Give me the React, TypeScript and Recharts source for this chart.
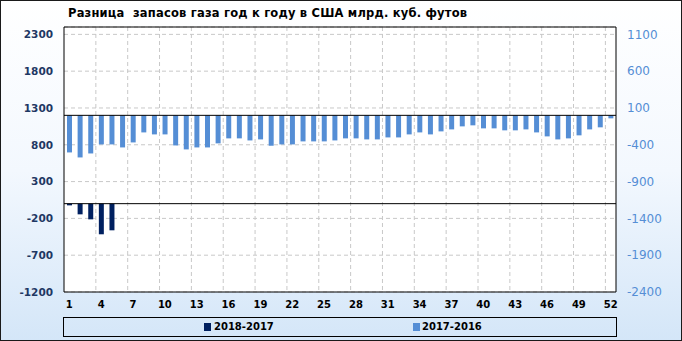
import React from 'react'
import { Bar, BarChart, CartesianGrid, Legend, ReferenceLine, XAxis, YAxis } from 'recharts'

// weeks of the year
const weeks = [
    1, 2, 3, 4, 5, 6, 7, 8, 9, 10, 11, 12, 13, 14, 15, 16, 17, 18, 19, 20, 21, 22, 23, 24, 25, 26,
    27, 28, 29, 30, 31, 32, 33, 34, 35, 36, 37, 38, 39, 40, 41, 42, 43, 44, 45, 46, 47, 48, 49, 50, 51, 52,
]

// 2018 vs 2017 (left axis), only first weeks available
const diff2018 = [-23, -145, -213, -416, -362]

// 2017 vs 2016 (right axis)
const diff2017 = [
    -504, -572, -518, -395, -395, -436, -368, -232, -259, -259, -409, -463, -436,
    -436, -381, -313, -313, -341, -327, -413, -395, -395, -354, -354, -354, -341,
    -313, -313, -327, -327, -300, -300, -259, -232, -259, -218, -191, -150, -136,
    -177, -177, -204, -204, -191, -232, -286, -327, -313, -272, -191, -163, -41,
]

const leftTicks = [-1200, -700, -200, 300, 800, 1300, 1800, 2300]
const rightTicks = [-2400, -1900, -1400, -900, -400, 100, 600, 1100]
const gridWeeks = [3, 6, 9, 12, 15, 18, 21, 24, 27, 30, 33, 36, 39, 42, 45, 48, 51]

const NAVY = '#002060'
const BLUE = '#558ed5'
const FONT = '"DejaVu Sans", Verdana, sans-serif'

const data = weeks.map((week, i) => ({
    week,
    y2018: i < diff2018.length ? diff2018[i] : null,
    y2017: diff2017[i],
}))

const LegendBox = () => (
    <div style={{
        position: 'relative', width: 554, height: 20, boxSizing: 'border-box',
        border: '1px solid #000', fontFamily: FONT, fontWeight: 'bold', fontSize: 10, color: '#000',
    }}>
        <span style={{ position: 'absolute', left: 140, top: 5, width: 7, height: 8, background: NAVY }} />
        <span style={{ position: 'absolute', left: 150, top: 3, lineHeight: '12px' }}>2018-2017</span>
        <span style={{ position: 'absolute', left: 349, top: 5, width: 7, height: 8, background: BLUE }} />
        <span style={{ position: 'absolute', left: 358, top: 3, lineHeight: '12px' }}>2017-2016</span>
    </div>
)

const App = () => {
    return (
        <div style={{
            position: 'absolute', left: 0, top: 0, width: 682, height: 341,
            background: 'linear-gradient(#ffffff 0%, #f3f8fe 50%, #d4e6f8 100%)',
            boxShadow: 'inset 0 0 0 1px #1a1a1a',
        }}>
            <div style={{
                position: 'absolute', left: 68, top: 6, fontFamily: FONT, fontWeight: 'bold',
                fontSize: 11.5, letterSpacing: 0.2, color: '#000', whiteSpace: 'pre', lineHeight: '14px',
            }}>
                Разница  запасов газа год к году в США млрд. куб. футов
            </div>
            <BarChart
                width={682}
                height={341}
                data={data}
                margin={{ top: 27, right: 0, bottom: 0, left: 0 }}
                barGap={-5}
                style={{ position: 'absolute', left: 0, top: 0 }}
            >
                <CartesianGrid
                    yAxisId="left"
                    fill="#ffffff"
                    stroke="#c8c8c8"
                    strokeDasharray="4 3"
                    verticalCoordinatesGenerator={({ offset }: any) =>
                        gridWeeks.map(k => offset.left + (k * offset.width) / weeks.length)}
                />
                <XAxis
                    dataKey="week"
                    type="category"
                    interval={2}
                    height={49}
                    tickSize={0}
                    tickMargin={9}
                    tickLine={false}
                    axisLine={{ stroke: '#000' }}
                    tick={{ fill: '#000', fontSize: 10, fontWeight: 'bold', fontFamily: FONT }}
                />
                <YAxis
                    yAxisId="left"
                    orientation="left"
                    width={64}
                    type="number"
                    domain={[-1200, 2400]}
                    ticks={leftTicks}
                    allowDataOverflow
                    tickSize={0}
                    tickMargin={11}
                    tickLine={false}
                    axisLine={{ stroke: '#000' }}
                    tick={{ fill: '#1f3864', fontSize: 10.5, fontWeight: 'bold', fontFamily: FONT }}
                />
                <YAxis
                    yAxisId="right"
                    orientation="right"
                    width={66}
                    type="number"
                    domain={[-2400, 1200]}
                    ticks={rightTicks}
                    allowDataOverflow
                    tickSize={0}
                    tickMargin={11}
                    tickLine={false}
                    axisLine={{ stroke: '#000' }}
                    tick={{ fill: BLUE, fontSize: 12, fontFamily: FONT }}
                />
                <ReferenceLine yAxisId="left" y={2400} stroke="#000" />
                <Bar dataKey="y2018" name="2018-2017" yAxisId="left" fill={NAVY} barSize={5} isAnimationActive={false} />
                <Bar dataKey="y2017" name="2017-2016" yAxisId="right" fill={BLUE} barSize={5} isAnimationActive={false} />
                <ReferenceLine yAxisId="left" y={0} stroke="#000" />
                <ReferenceLine yAxisId="right" y={0} stroke="#000" />
                <Legend
                    layout="horizontal"
                    verticalAlign="middle"
                    align="center"
                    content={() => <LegendBox />}
                    wrapperStyle={{ left: 63, top: 317, width: 554, height: 20, right: 'auto', bottom: 'auto' }}
                />
            </BarChart>
        </div>
    )
}

export default App
